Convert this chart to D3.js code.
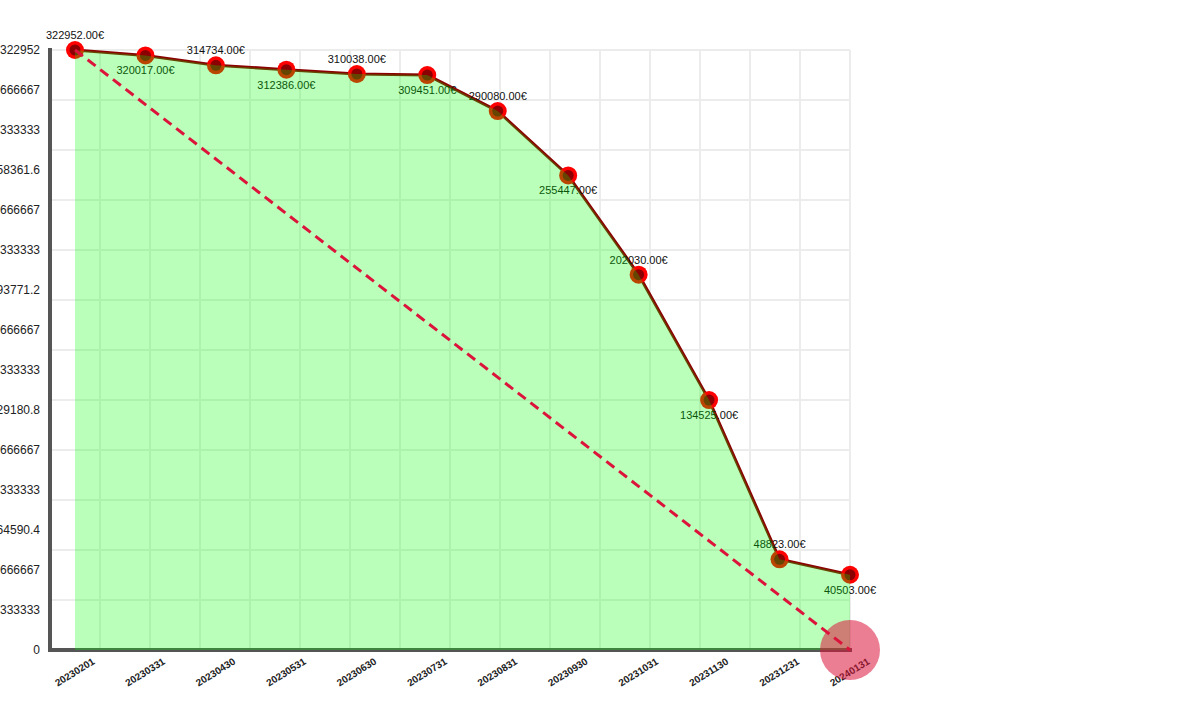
<!DOCTYPE html>
<html><head><meta charset="utf-8">
<script src="https://cdnjs.cloudflare.com/ajax/libs/d3/7.8.5/d3.min.js"></script>
<style>
body{margin:0;background:#fff;}
svg{display:block;font-family:"Liberation Sans",Arial,sans-serif;}
</style></head><body>
<svg id="c" width="1200" height="710"></svg>
<script>
const dates = ["20230201","20230331","20230430","20230531","20230630","20230731","20230831","20230930","20231031","20231130","20231231","20240131"];
const values = [322952,320017,314734,312386,310038,309451,290080,255447,202030,134525,48823,40503];
const yTickCount = 15;

const svg = d3.select("#c");
const plot = {left:50, right:850, top:50, bottom:650};
const maxV = d3.max(values);
const x = d3.scalePoint().domain(dates).range([75, 850]);
const y = d3.scaleLinear().domain([0, maxV]).range([plot.bottom, plot.top]);
const data = dates.map((d,i)=>({d, v: values[i], i}));

// background grid (50px squares)
const grid = svg.append("g").attr("stroke","#ececec").attr("stroke-width",2);
d3.range(plot.left+50, plot.right+1, 50).forEach(gx=>grid.append("line").attr("x1",gx).attr("x2",gx).attr("y1",plot.top).attr("y2",plot.bottom));
d3.range(plot.top, plot.bottom, 50).forEach(gy=>grid.append("line").attr("x1",plot.left).attr("x2",plot.right).attr("y1",gy).attr("y2",gy));

// axes frame
svg.append("line").attr("x1",plot.left).attr("x2",plot.left).attr("y1",plot.top-2).attr("y2",plot.bottom+2).attr("stroke","#555").attr("stroke-width",4);
svg.append("line").attr("x1",plot.left-2).attr("x2",plot.right+2).attr("y1",plot.bottom).attr("y2",plot.bottom).attr("stroke","#555").attr("stroke-width",4);

// y axis labels
const yTicks = d3.range(yTickCount+1).map(i=>maxV*i/yTickCount);
const yAxis = svg.append("g").attr("transform",`translate(${plot.left},0)`)
  .call(d3.axisLeft(y).tickValues(yTicks).tickSize(0).tickPadding(10).tickFormat(v=>String(parseFloat(v.toFixed(7)))));
yAxis.select(".domain").remove();
yAxis.selectAll("text").attr("font-size",12).attr("fill","#222").attr("font-family","'Liberation Sans',Arial,sans-serif");

// x axis labels
const xAxis = svg.append("g").attr("transform",`translate(0,${plot.bottom})`)
  .call(d3.axisBottom(x).tickSize(0).tickPadding(0));
xAxis.select(".domain").remove();
xAxis.selectAll("text").attr("font-size",10).attr("font-weight","bold").attr("fill","#222")
  .attr("font-family","'Liberation Sans',Arial,sans-serif")
  .attr("text-anchor","middle").attr("dy",0)
  .attr("transform","translate(1,25) rotate(-32)");

// line
const line = d3.line().x(d=>x(d.d)).y(d=>y(d.v));
svg.append("path").datum(data).attr("d",line).attr("fill","none").attr("stroke","#8b0000").attr("stroke-width",3);

// points
svg.append("g").selectAll("circle").data(data).join("circle")
  .attr("cx",d=>x(d.d)).attr("cy",d=>y(d.v)).attr("r",9).attr("fill","red");
svg.append("g").selectAll("circle").data(data).join("circle")
  .attr("cx",d=>x(d.d)).attr("cy",d=>y(d.v)).attr("r",5.5).attr("fill","#8b0000");

// value labels
svg.append("g").selectAll("text").data(data).join("text")
  .attr("x",d=>x(d.d)).attr("y",d=>y(d.v) + (d.i%2===0 ? -11 : 19))
  .attr("text-anchor","middle").attr("font-size",11).attr("fill","#111")
  .text(d=>d.v.toFixed(2)+"€");

// area on top
const area = d3.area().x(d=>x(d.d)).y0(y(0)).y1(d=>y(d.v));
svg.append("path").datum(data).attr("d",area).attr("fill","lime").attr("fill-opacity",0.27);

// dashed trend line
svg.append("line")
  .attr("x1", x(dates[0])).attr("y1", y(values[0]))
  .attr("x2", x(dates[dates.length-1])).attr("y2", y(0))
  .attr("stroke","crimson").attr("stroke-width",3).attr("stroke-dasharray","10,6");

// end marker
svg.append("circle").attr("cx",x(dates[dates.length-1])).attr("cy",y(0)).attr("r",30)
  .attr("fill","crimson").attr("fill-opacity",0.55);
</script></body></html>
